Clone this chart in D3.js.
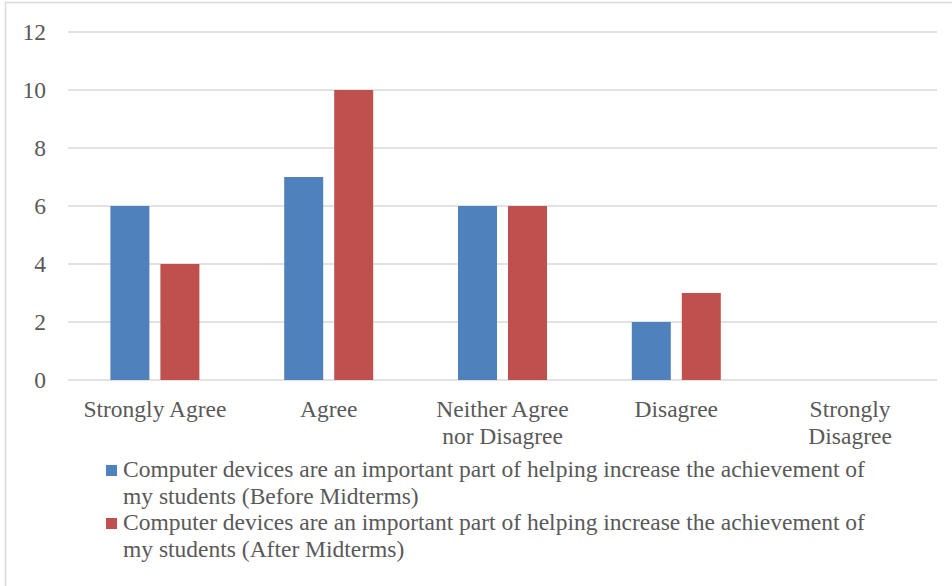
<!DOCTYPE html>
<html>
<head>
<meta charset="utf-8">
<script src="https://cdn.jsdelivr.net/npm/d3@7"></script>
</head>
<body style="margin:0">
<svg id="s" width="952" height="586" style="display:block"></svg>
<script>
// Survey responses per category
const categories = ["Strongly Agree", "Agree", "Neither Agree nor Disagree", "Disagree", "Strongly Disagree"];
const beforeValues = [6, 7, 6, 2, 0];
const afterValues = [4, 10, 6, 3, 0];
const seriesNames = [
  "Computer devices are an important part of helping increase the achievement of my students (Before Midterms)",
  "Computer devices are an important part of helping increase the achievement of my students (After Midterms)"
];
const seriesColors = ["#4F81BD", "#C0504D"];
const yTicks = [0, 2, 4, 6, 8, 10, 12];

const svg = d3.select("#s");
const fontSize = 23.5;
const textColor = "#595959";

function styleText(sel) {
  return sel.style("font-family", "'Times New Roman'")
    .attr("font-size", fontSize)
    .style("fill", textColor);
}

// Outer frame
svg.append("rect")
  .attr("x", 5.5).attr("y", 2.5)
  .attr("width", 960).attr("height", 600)
  .attr("fill", "none").attr("stroke", "#d9d9d9").attr("stroke-width", 1.5);

const x = d3.scaleBand().domain(categories).range([68, 937]).padding(0);
const xSub = d3.scaleBand().domain([0, 1]).range([-44.5, 44.5]).paddingInner(0.22).paddingOuter(0);
const y = d3.scaleLinear().domain([0, 12]).range([380, 32]);

// Gridlines
svg.append("g").selectAll("line").data(yTicks).join("line")
  .attr("x1", 68).attr("x2", 937)
  .attr("y1", d => y(d)).attr("y2", d => y(d))
  .attr("stroke", "#d9d9d9").attr("stroke-width", 1.3);

// Y axis labels
const yAxis = d3.axisLeft(y).tickValues(yTicks).tickSize(0).tickPadding(0);
const yg = svg.append("g").attr("transform", "translate(46,0)").call(yAxis)
  .attr("font-family", "'Times New Roman'").attr("font-size", fontSize);
yg.select(".domain").remove();
styleText(yg.selectAll("text")).attr("dy", "0.33em");

// Bars
[beforeValues, afterValues].forEach((vals, si) => {
  svg.append("g").selectAll("rect").data(vals).join("rect")
    .attr("x", (d, i) => x(categories[i]) + x.bandwidth() / 2 + xSub(si))
    .attr("width", xSub.bandwidth())
    .attr("y", d => y(d))
    .attr("height", d => y(0) - y(d))
    .attr("fill", seriesColors[si]);
});

// Word wrap helper based on measured text width
function wrapLines(str, maxWidth) {
  const probe = styleText(svg.append("text"));
  const words = str.split(" ");
  const lines = [];
  let line = [];
  words.forEach(w => {
    const test = line.concat(w).join(" ");
    probe.text(test);
    if (line.length && probe.node().getComputedTextLength() > maxWidth) {
      lines.push(line.join(" "));
      line = [w];
    } else {
      line.push(w);
    }
  });
  if (line.length) lines.push(line.join(" "));
  probe.remove();
  return lines;
}

// Category labels, one text element per line
const lineH = 26.5;
categories.forEach(c => {
  wrapLines(c, 160).forEach((l, i) => {
    styleText(svg.append("text"))
      .attr("text-anchor", "middle")
      .attr("x", x(c) + x.bandwidth() / 2)
      .attr("y", 417 + i * lineH)
      .text(l);
  });
});

// Legend
let ly = 477;
seriesNames.forEach((name, si) => {
  svg.append("rect")
    .attr("x", 106).attr("y", ly - 12)
    .attr("width", 11).attr("height", 11)
    .attr("fill", seriesColors[si]);
  const lines = wrapLines(name, 770);
  lines.forEach((l, i) => {
    styleText(svg.append("text"))
      .attr("x", 123).attr("y", ly + i * lineH)
      .text(l);
  });
  ly += lines.length * lineH;
});
</script>
</body>
</html>
